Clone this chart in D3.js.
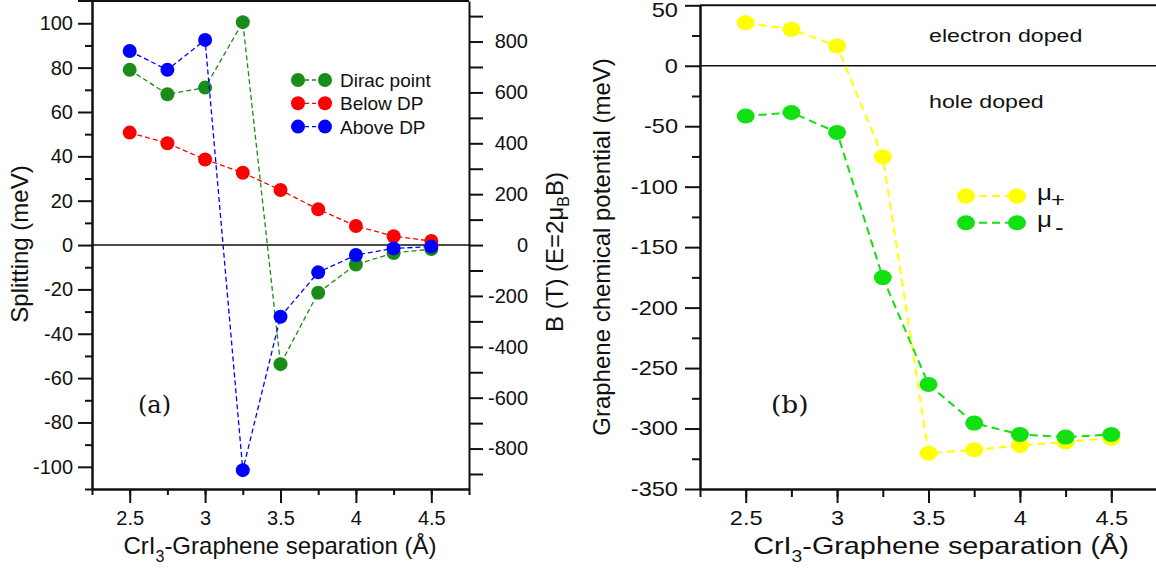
<!DOCTYPE html>
<html><head><meta charset="utf-8">
<script src="https://cdn.jsdelivr.net/npm/d3@7"></script>
<style>
html,body{margin:0;padding:0;background:#fff;}
svg{display:block;font-family:"Liberation Sans",Arial,sans-serif;}
.axis path,.axis line{stroke:#111;stroke-width:2;}
.axis text{fill:#111;font-size:20px;font-family:"Liberation Sans",Arial,sans-serif;}
</style></head>
<body>
<svg id="chart" width="1156" height="569"></svg>
<script>
// ---------- data ----------
const separation = [2.5, 2.75, 3, 3.25, 3.5, 3.75, 4, 4.25, 4.5];
const diracPoint = [79, 68, 71, 100.5, -53.7, -21.5, -8.8, -3.6, -1.8];
const belowDP    = [50.7, 45.9, 38.6, 32.6, 24.8, 16.1, 8.6, 4.0, 1.8];
const aboveDP    = [87.5, 79, 92.5, -101.5, -32.3, -12.3, -4.5, -1.5, -0.7];
const muPlus     = [35.6, 30.1, 16.3, -75.3, -320.4, -317.6, -314, -311, -308];
const muMinus    = [-41.6, -38.6, -55.1, -175.2, -263.5, -295.5, -304.9, -307.1, -304.9];

const xTickLabels   = [2.5, 3, 3.5, 4, 4.5];
const xTicksAll     = [2.25, 2.5, 2.75, 3, 3.25, 3.5, 3.75, 4, 4.25, 4.5, 4.75];
const splitTickLabels = [-100, -80, -60, -40, -20, 0, 20, 40, 60, 80, 100];
const splitTicksMinor = [-110, -90, -70, -50, -30, -10, 10, 30, 50, 70, 90];
const bTicksAll     = [-900, -800, -700, -600, -500, -400, -300, -200, -100, 0, 100, 200, 300, 400, 500, 600, 700, 800, 900];
const bTickLabels   = [-800, -600, -400, -200, 0, 200, 400, 600, 800];
const muTickLabels  = [-350, -300, -250, -200, -150, -100, -50, 0, 50];
const muTicksMinor  = [-325, -275, -225, -175, -125, -75, -25, 25];
const bLimit = 959; // B (T) equivalent of 110 meV on the right axis

const leftSeries = [
  {name: "Dirac point", values: diracPoint, color: "#1a8c1a"},
  {name: "Below DP", values: belowDP, color: "#ff0000"},
  {name: "Above DP", values: aboveDP, color: "#0000ff"}
];
const rightSeries = [
  {name: "+", values: muPlus, color: "#ffff00"},
  {name: "-", values: muMinus, color: "#11e011"}
];

const svg = d3.select("#chart");
const fmt = d => String(d);

// ---------- left panel ----------
const xL = d3.scaleLinear().domain([2.25, 4.75]).range([92, 469]);
const yL = d3.scaleLinear().domain([-110, 110]).range([489, 1.1]);
const yB = d3.scaleLinear().domain([-bLimit, bLimit]).range([489, 1.1]);

const gL = svg.append("g");
gL.append("line").attr("x1", 78).attr("x2", xL(4.75)).attr("y1", yL(110)).attr("y2", yL(110))
  .attr("stroke", "#111").attr("stroke-width", 2);
gL.append("line").attr("x1", xL(2.25)).attr("x2", xL(4.75)).attr("y1", yL(0)).attr("y2", yL(0))
  .attr("stroke", "#111").attr("stroke-width", 1.5);

gL.append("g").attr("class", "axis").attr("transform", `translate(${xL(2.25)},0)`)
  .call(d3.axisLeft(yL).tickValues(splitTicksMinor).tickSize(7).tickSizeOuter(0).tickFormat(""));
gL.append("g").attr("class", "axis").attr("transform", `translate(${xL(2.25)},0)`)
  .call(d3.axisLeft(yL).tickValues(splitTickLabels).tickSize(14).tickSizeOuter(0).tickPadding(5).tickFormat(fmt));
const bAx = gL.append("g").attr("class", "axis").attr("transform", `translate(${xL(4.75)},0)`)
  .call(d3.axisRight(yB).tickValues(bTicksAll).tickSize(14).tickSizeOuter(0)
    .tickFormat(d => bTickLabels.includes(d) ? fmt(d) : ""));
bAx.selectAll("text").attr("text-anchor", "end").attr("x", 59);
gL.append("g").attr("class", "axis").attr("transform", `translate(0,${yL(-110)})`)
  .call(d3.axisBottom(xL).tickValues(xTicksAll).tickSize(6).tickSizeOuter(0).tickFormat(""));
const bxL = gL.append("g").attr("class", "axis").attr("transform", `translate(0,${yL(-110)})`)
  .call(d3.axisBottom(xL).tickValues(xTickLabels).tickSize(14).tickSizeOuter(0).tickFormat(fmt));
bxL.selectAll("text").attr("y", 36).attr("dy", 0);

const lineL = d3.line().x((d, i) => xL(separation[i])).y(d => yL(d));
leftSeries.forEach(s => {
  gL.append("path").attr("d", lineL(s.values)).attr("fill", "none")
    .attr("stroke", s.color).attr("stroke-width", 1.3).attr("stroke-dasharray", "5,3");
  gL.selectAll(null).data(s.values).enter().append("circle")
    .attr("cx", (d, i) => xL(separation[i])).attr("cy", d => yL(d)).attr("r", 7).attr("fill", s.color);
});

leftSeries.forEach((s, i) => {
  const cy = 80 + i * 23.3;
  gL.append("line").attr("x1", 298).attr("x2", 325).attr("y1", cy).attr("y2", cy)
    .attr("stroke", s.color).attr("stroke-width", 1.3).attr("stroke-dasharray", "4,3");
  gL.append("circle").attr("cx", 298).attr("cy", cy).attr("r", 7).attr("fill", s.color);
  gL.append("circle").attr("cx", 325).attr("cy", cy).attr("r", 7).attr("fill", s.color);
  gL.append("text").attr("x", 340).attr("y", cy + 7).attr("font-size", 19).attr("fill", "#111").text(s.name);
});

gL.append("text").attr("transform", "translate(28,244) rotate(-90)").attr("text-anchor", "middle")
  .attr("font-size", 24).attr("fill", "#111").text("Splitting (meV)");
const bt = gL.append("text").attr("transform", "translate(563,252) rotate(-90)").attr("text-anchor", "middle")
  .attr("font-size", 24).attr("fill", "#111");
bt.append("tspan").text("B (T) (E=2\u03BC");
bt.append("tspan").attr("font-size", 16).attr("dy", 6).text("B");
bt.append("tspan").attr("dy", -6).text("B)");
const xtL = gL.append("text").attr("x", 280).attr("y", 554).attr("text-anchor", "middle")
  .attr("font-size", 24).attr("fill", "#111");
xtL.append("tspan").text("CrI");
xtL.append("tspan").attr("font-size", 16).attr("dy", 8).text("3");
xtL.append("tspan").attr("dy", -8).text("-Graphene separation (\u00C5)");
gL.append("text").attr("x", 138).attr("y", 413).attr("font-family", "'DejaVu Serif',serif")
  .attr("font-size", 24).attr("fill", "#111").text("(a)");

// ---------- right panel ----------
const sx = 1.18;
const xR = d3.scaleLinear().domain([2.25, 4.75]).range([700, 1157]);
const yR = d3.scaleLinear().domain([-350, 50]).range([489, 5.3]);
const gR = svg.append("g");

gR.append("line").attr("x1", xR(2.25)).attr("x2", 1156).attr("y1", yR(50)).attr("y2", yR(50))
  .attr("stroke", "#111").attr("stroke-width", 2);
gR.append("line").attr("x1", xR(2.25)).attr("x2", 1156).attr("y1", yR(0)).attr("y2", yR(0))
  .attr("stroke", "#111").attr("stroke-width", 1.5);

gR.append("g").attr("class", "axis").attr("transform", `translate(${xR(2.25)},0)`)
  .call(d3.axisLeft(yR).tickValues(muTicksMinor).tickSize(8).tickSizeOuter(0).tickFormat(""));
const ayR = gR.append("g").attr("class", "axis").attr("transform", `translate(${xR(2.25)},0)`)
  .call(d3.axisLeft(yR).tickValues(muTickLabels).tickSize(15).tickSizeOuter(0).tickFormat(fmt));
ayR.selectAll("text").attr("x", 0)
  .attr("transform", d => `translate(-22,${d === 50 ? 5 : 0}) scale(${sx},1)`);
gR.append("g").attr("class", "axis").attr("transform", `translate(0,${yR(-350)})`)
  .call(d3.axisBottom(xR).tickValues(xTicksAll).tickSize(8).tickSizeOuter(0).tickFormat(""));
const axR = gR.append("g").attr("class", "axis").attr("transform", `translate(0,${yR(-350)})`)
  .call(d3.axisBottom(xR).tickValues(xTickLabels).tickSize(14).tickSizeOuter(0).tickFormat(fmt));
axR.selectAll("text").attr("y", 0).attr("dy", 0).attr("transform", `translate(0,36) scale(${sx},1)`);

const lineR = d3.line().x((d, i) => xR(separation[i])).y(d => yR(d));
rightSeries.forEach(s => {
  gR.append("path").attr("d", lineR(s.values)).attr("fill", "none")
    .attr("stroke", s.color).attr("stroke-width", 2).attr("stroke-dasharray", "8,5");
  gR.selectAll(null).data(s.values).enter().append("ellipse")
    .attr("cx", (d, i) => xR(separation[i])).attr("cy", d => yR(d)).attr("rx", 9).attr("ry", 7.5).attr("fill", s.color);
});

rightSeries.forEach((s, i) => {
  const cy = 196 + i * 26.7;
  gR.append("line").attr("x1", 966).attr("x2", 1017).attr("y1", cy).attr("y2", cy)
    .attr("stroke", s.color).attr("stroke-width", 2).attr("stroke-dasharray", "8,5");
  gR.append("ellipse").attr("cx", 966).attr("cy", cy).attr("rx", 9).attr("ry", 7.5).attr("fill", s.color);
  gR.append("ellipse").attr("cx", 1017).attr("cy", cy).attr("rx", 9).attr("ry", 7.5).attr("fill", s.color);
  gR.append("text").attr("transform", `translate(1037,${cy + 4}) scale(${sx},1)`)
    .attr("font-size", 22).attr("fill", "#111").text("\u03BC");
  gR.append("text").attr("transform", `translate(${i === 0 ? 1051 : 1055},${cy + (i === 0 ? 11 : 12)}) scale(${sx},1)`)
    .attr("font-size", i === 0 ? 20 : 22).attr("fill", "#111").text(s.name);
});

gR.append("text").attr("transform", `translate(929,42) scale(1.22,1)`).attr("font-size", 19)
  .attr("fill", "#111").text("electron doped");
gR.append("text").attr("transform", `translate(929,108) scale(1.22,1)`).attr("font-size", 19)
  .attr("fill", "#111").text("hole doped");
gR.append("text").attr("transform", `translate(771,413) scale(1.1,1)`).attr("font-family", "'DejaVu Serif',serif")
  .attr("font-size", 24).attr("fill", "#111").text("(b)");

gR.append("text").attr("transform", "translate(610,247) rotate(-90)").attr("text-anchor", "middle")
  .attr("font-size", 24).attr("fill", "#111").text("Graphene chemical potential (meV)");
const xtR = gR.append("text").attr("transform", `translate(941,554) scale(1.2,1)`).attr("text-anchor", "middle")
  .attr("font-size", 24).attr("fill", "#111");
xtR.append("tspan").text("CrI");
xtR.append("tspan").attr("font-size", 16).attr("dy", 8).text("3");
xtR.append("tspan").attr("dy", -8).text("-Graphene separation (\u00C5)");
</script>
</body></html>
